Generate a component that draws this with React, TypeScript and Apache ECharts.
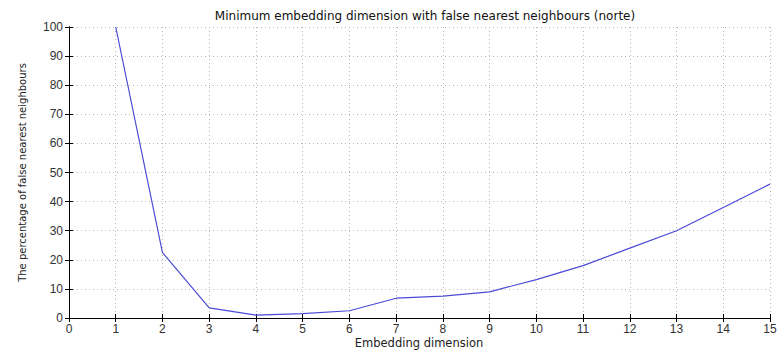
import React, { useEffect, useRef } from "react";
import * as echarts from "echarts";

const dims: number[] = [1, 2, 3, 4, 5, 6, 7, 8, 9, 10, 11, 12, 13, 14, 15];
const fnnPercent: number[] = [100, 22.5, 3.5, 1, 1.5, 2.5, 6.8, 7.5, 9, 13.2, 18, 24, 30, 38, 46];
const titleText = "Minimum embedding dimension with false nearest neighbours (norte)";
const xLabel = "Embedding dimension";
const yLabel = "The percentage of false nearest neighbours";

export default function App() {
  const ref = useRef<HTMLDivElement>(null);
  useEffect(() => {
    document.body.style.margin = "0";
    const chart = echarts.init(ref.current!, null, { renderer: "svg" });
    const font = "Liberation Sans, Arial, sans-serif";
    const wide = "DejaVu Sans, sans-serif";
    const axisLine = { show: true, lineStyle: { color: "#000", width: 1 } };
    const tick = { show: true, inside: true, length: 4, lineStyle: { color: "#000" } };
    const split = { show: true, lineStyle: { color: "#b8b8b8", type: [1, 3] as any, width: 1 } };
    chart.setOption({
      animation: false,
      backgroundColor: "#fff",
      title: {
        text: titleText,
        left: 420,
        textAlign: "center",
        top: 5,
        textStyle: { fontSize: 12, fontWeight: "normal", color: "#111", fontFamily: wide },
      },
      graphic: [
        {
          type: "text",
          x: 419,
          y: 343,
          style: {
            text: xLabel,
            fontSize: 11.5,
            fontFamily: wide,
            fill: "#222",
            align: "center",
            verticalAlign: "middle",
          },
        },
      ],
      grid: { left: 69, right: 14, top: 27, bottom: 33, containLabel: false, outerBoundsMode: "none" },
      xAxis: [
        {
          type: "value",
          min: 0,
          max: 15,
          interval: 1,
          position: "bottom",
          axisLine,
          axisTick: tick,
          axisLabel: { fontSize: 12, color: "#333", fontFamily: font, margin: 5 },
          splitLine: split,
        },
        {
          type: "value",
          min: 0,
          max: 15,
          interval: 1,
          position: "top",
          axisLine,
          axisTick: tick,
          axisLabel: { show: false },
          splitLine: { show: false },
        },
      ],
      yAxis: [
        {
          type: "value",
          min: 0,
          max: 100,
          interval: 10,
          position: "left",
          name: yLabel,
          nameLocation: "middle",
          nameGap: 42,
          nameRotate: 90,
          nameTextStyle: { fontSize: 10, color: "#222", fontFamily: wide },
          axisLine,
          axisTick: tick,
          axisLabel: { fontSize: 12, color: "#333", fontFamily: font, margin: 6 },
          splitLine: split,
        },
        {
          type: "value",
          min: 0,
          max: 100,
          interval: 10,
          position: "right",
          axisLine,
          axisTick: tick,
          axisLabel: { show: false },
          splitLine: { show: false },
        },
      ],
      series: [
        {
          type: "line",
          data: dims.map((d, i) => [d, fnnPercent[i]]),
          showSymbol: false,
          lineStyle: { color: "#4b4bd6", width: 1.2 },
          xAxisIndex: 0,
          yAxisIndex: 0,
        },
      ],
    });
    return () => chart.dispose();
  }, []);
  return <div ref={ref} style={{ width: 784, height: 351 }} />;
}
